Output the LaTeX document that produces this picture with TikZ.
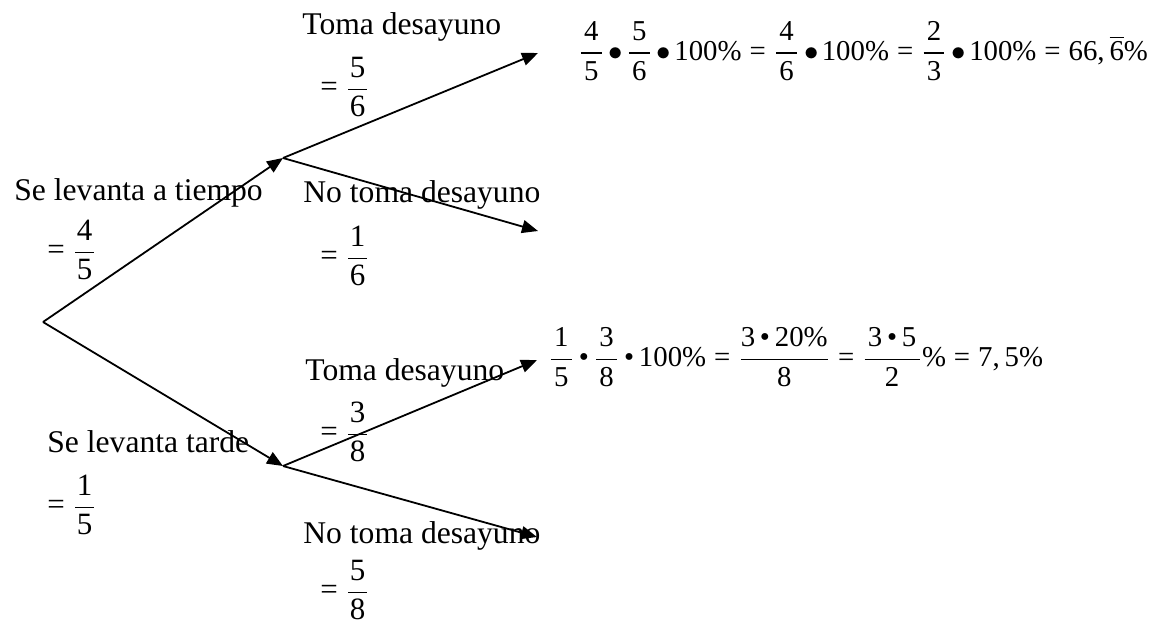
\documentclass[tikz,border=0pt]{standalone}
\usepackage{amsmath}
\usepackage{fontspec}
\setmainfont{Liberation Serif}
\usetikzlibrary{arrows.meta}
\newcommand\fr[2]{\dfrac{\mkern2mu\text{#1}\mkern2mu}{\mkern2mu\text{#2}\mkern2mu}}
\newcommand\ig[2]{\text{=}\hspace{4pt}\dfrac{\mkern1mu\text{#1}\mkern1mu}{\mkern1mu\text{#2}\mkern1mu}}
\newcommand\eqs{\mathrel{\text{=}}}
\newcommand\bul{\mkern3mu{\bullet}\mkern2mu}
\newcommand\sdot{\text{\,\textbullet\,}}

\begin{document}
\begin{tikzpicture}[x=0.5pt,y=-0.5pt,
lbl/.style={anchor=base west,inner sep=0pt,font=\fontsize{15.8}{18}\selectfont},
prob/.style={anchor=west,inner sep=0pt,font=\fontsize{15.5}{18}\selectfont},
calc/.style={anchor=west,inner sep=0pt,font=\fontsize{14.4}{17}\selectfont},
arr/.style={-{Triangle[length=8pt,width=6.5pt]},line width=0.9pt}]
\useasboundingbox (0,0) rectangle (1161,628);
\coordinate (root) at (43,322);
\coordinate (temp) at (283,158);
\coordinate (tard) at (283,466);
\coordinate (tempsi) at (538,53);
\coordinate (tempno) at (538,231);
\coordinate (tardsi) at (537,360);
\coordinate (tardno) at (537,537);
\draw[arr] (root)--(temp);
\draw[arr] (root)--(tard);
\draw[arr] (temp)--(tempsi);
\draw[arr] (temp)--(tempno);
\draw[arr] (tard)--(tardsi);
\draw[arr] (tard)--(tardno);
\node[lbl] (ltemp) at (14,200) {Se levanta a tiempo};
\node[prob] (ptemp) at (47,250) {$\ig45$};
\node[lbl] (ltard) at (47,452) {Se levanta tarde};
\node[prob] (ptard) at (47,505) {$\ig15$};
\node[lbl] (ltempsi) at (302,34) {Toma desayuno};
\node[prob] (ptempsi) at (320,87) {$\ig56$};
\node[lbl] (ltempno) at (303,202) {No toma desayuno};
\node[prob] (ptempno) at (320,256) {$\ig16$};
\node[lbl] (ltardsi) at (305,380) {Toma desayuno};
\node[prob] (ptardsi) at (320,432) {$\ig38$};
\node[lbl] (ltardno) at (303,543) {No toma desayuno};
\node[prob] (ptardno) at (320,590) {$\ig58$};
\node[calc] (ctempsi) at (578,51) {$\fr45\bul\fr56\bul\text{100\%}\eqs\fr46\bul\text{100\%}\eqs\fr23\bul\text{100\%}\eqs\text{66,\,}\overline{\text{6}}\text{\%}$};
\node[calc] (ctardsi) at (548,357) {$\fr15\sdot\fr38\sdot\text{100\%}\eqs\dfrac{\text{3\sdot20\%}}{\text{8}}\eqs\fr{3\sdot5}{2}\text{\%}\eqs\text{7,\,5\%}$};
\end{tikzpicture}
\end{document}
